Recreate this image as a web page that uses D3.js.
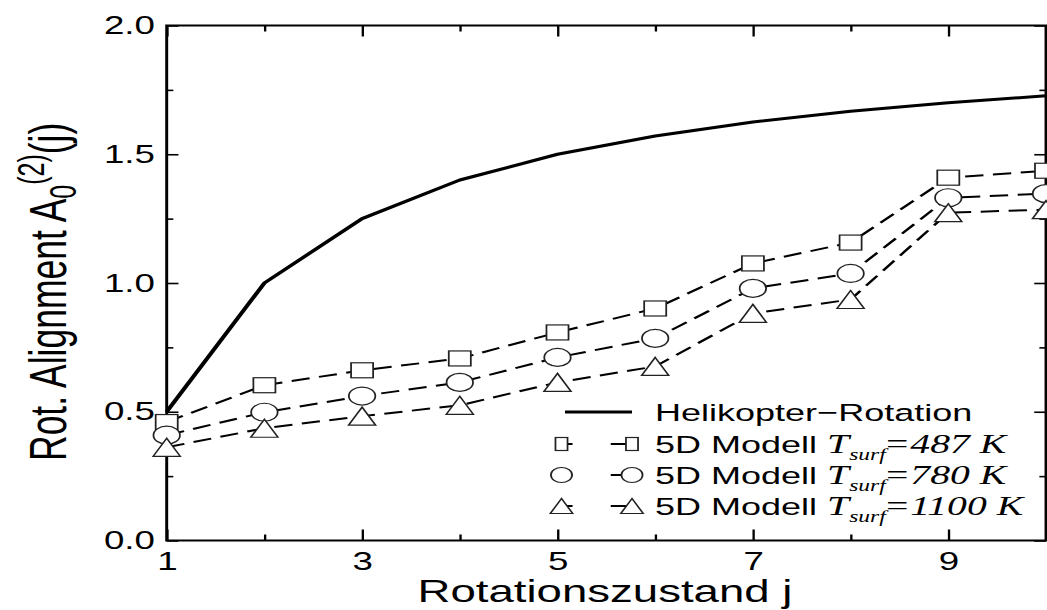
<!DOCTYPE html>
<html>
<head>
<meta charset="utf-8">
<script src="https://cdn.jsdelivr.net/npm/d3@7"></script>
<style>
  html, body { margin: 0; padding: 0; background: #fff; }
  svg { display: block; }
</style>
</head>
<body>
<div id="chart"></div>
<script>
// Rotational alignment vs. rotational state j.
// Data.
const rotJ = [1, 2, 3, 4, 5, 6, 7, 8, 9, 10];
const heliValues = [0.5, 1.0, 1.25, 1.4, 1.5, 1.571, 1.625, 1.667, 1.7, 1.727];
const model487 = [0.46, 0.603, 0.661, 0.707, 0.808, 0.901, 1.076, 1.157, 1.409, 1.436];
const model780 = [0.409, 0.498, 0.561, 0.614, 0.711, 0.785, 0.979, 1.037, 1.331, 1.347];
const model1100 = [0.362, 0.436, 0.483, 0.525, 0.614, 0.676, 0.882, 0.936, 1.273, 1.285];
const xTickLabels = [1, 3, 5, 7, 9];
const xMinorTicks = [2, 4, 6, 8, 10];
const yTickLabels = [0, 0.5, 1.0, 1.5, 2.0];
const yMinorTicks = [0.25, 0.75, 1.25, 1.75];
const legendTemps = ['487 K', '780 K', '1100 K'];

// The original figure is stretched horizontally; draw in a scaled group.
const sx = 1.47;
const W = 1047, H = 610;
const box = { left: 166.7 / sx, right: 1046 / sx, top: 25.5, bottom: 540.5 };

const svg = d3.select('#chart').append('svg').attr('width', W).attr('height', H);
const g = svg.append('g').attr('transform', `scale(${sx},1)`);

const x = d3.scaleLinear().domain([1, 10]).range([box.left, box.right]);
const y = d3.scaleLinear().domain([0, 2]).range([box.bottom, box.top]);

const FONT = '"Liberation Sans", Arial, Helvetica, sans-serif';
const SERIF = '"Liberation Serif", "Times New Roman", Times, serif';

// ---- frame and ticks ----
function tickAxis(gen, transform) {
  const a = g.append('g').attr('transform', transform).call(gen);
  a.select('.domain').remove();
  a.selectAll('line').attr('stroke', '#000').attr('stroke-width', 1.6);
  return a;
}
tickAxis(d3.axisBottom(x).tickValues(xTickLabels).tickSize(-11).tickFormat(''), `translate(0,${box.bottom})`);
tickAxis(d3.axisBottom(x).tickValues(xMinorTicks).tickSize(-6).tickFormat(''), `translate(0,${box.bottom})`);
tickAxis(d3.axisTop(x).tickValues(xTickLabels).tickSize(-11).tickFormat(''), `translate(0,${box.top})`);
tickAxis(d3.axisTop(x).tickValues(xMinorTicks).tickSize(-6).tickFormat(''), `translate(0,${box.top})`);
tickAxis(d3.axisLeft(y).tickValues(yTickLabels).tickSize(-8).tickFormat(''), `translate(${box.left},0)`);
tickAxis(d3.axisLeft(y).tickValues(yMinorTicks).tickSize(-4.5).tickFormat(''), `translate(${box.left},0)`);
tickAxis(d3.axisRight(y).tickValues(yTickLabels).tickSize(-8).tickFormat(''), `translate(${box.right},0)`);
tickAxis(d3.axisRight(y).tickValues(yMinorTicks).tickSize(-4.5).tickFormat(''), `translate(${box.right},0)`);

g.append('rect')
  .attr('x', box.left).attr('y', box.top)
  .attr('width', box.right - box.left).attr('height', box.bottom - box.top)
  .attr('fill', 'none').attr('stroke', '#000').attr('stroke-width', 2);

// tick labels
const xl = g.append('g').attr('transform', `translate(0,${box.bottom})`)
  .call(d3.axisBottom(x).tickValues(xTickLabels).tickSize(0).tickPadding(12).tickFormat(d3.format('d')));
xl.select('.domain').remove();
xl.selectAll('text').attr('font-family', FONT).attr('font-size', 25).attr('fill', '#000');

const yl = g.append('g').attr('transform', `translate(${box.left},0)`)
  .call(d3.axisLeft(y).tickValues(yTickLabels).tickSize(0).tickPadding(8).tickFormat(d3.format('.1f')));
yl.select('.domain').remove();
yl.selectAll('text').attr('font-family', FONT).attr('font-size', 25).attr('fill', '#000');

// axis titles
g.append('text')
  .attr('x', 605 / sx).attr('y', 602)
  .attr('text-anchor', 'middle')
  .attr('font-family', FONT).attr('font-size', 31)
  .text('Rotationszustand j');

const yt = g.append('text')
  .attr('transform', `translate(${66 / sx},461) rotate(-90)`)
  .attr('font-family', FONT).attr('font-size', 35.5);
yt.append('tspan').text('Rot. Alignment A');
yt.append('tspan').attr('font-size', 25).attr('dy', 7).text('0');
yt.append('tspan').attr('font-size', 25).attr('dx', 0).attr('dy', -22).text('(2)');
yt.append('tspan').attr('dy', 15).text('(j)');

// ---- series ----
const line = d3.line().x((d, i) => x(rotJ[i])).y(d => y(d));

const series = [
  { values: model487, shape: 'square' },
  { values: model780, shape: 'circle' },
  { values: model1100, shape: 'triangle' }
];

// legend markers are drawn smaller than plot markers
function drawMarker(sel, shape, small) {
  if (shape === 'square') {
    const w = small ? 8.2 : 15, h = small ? 13 : 15;
    sel.append('rect').attr('x', -w / 2).attr('y', -h / 2).attr('width', w).attr('height', h);
  } else if (shape === 'circle') {
    const rx = small ? 7.2 : 9, ry = small ? 7.5 : 9;
    sel.append('ellipse').attr('rx', rx).attr('ry', ry);
  } else {
    const hw = small ? 7.6 : 9.2, hh = small ? 7.5 : 9;
    sel.append('path').attr('d', `M0,${-hh}L${hw},${hh}L${-hw},${hh}Z`);
  }
  sel.selectAll('rect,ellipse,path')
    .attr('fill', '#fff').attr('stroke', '#222').attr('stroke-width', 1.2);
}

series.forEach(s => {
  g.append('path')
    .attr('d', line(s.values))
    .attr('fill', 'none').attr('stroke', '#000').attr('stroke-width', 2)
    .attr('stroke-dasharray', '12.5,6.5');
});

g.append('path')
  .attr('d', line(heliValues))
  .attr('fill', 'none').attr('stroke', '#000').attr('stroke-width', 3)
  .attr('stroke-linejoin', 'round');

series.forEach(s => {
  g.selectAll(null)
    .data(s.values)
    .enter()
    .append('g')
    .attr('transform', (d, i) => `translate(${x(rotJ[i])},${y(d)})`)
    .each(function () { drawMarker(d3.select(this), s.shape, false); });
});

// ---- legend ----
const lg = g.append('g');
const legX0 = 561.5 / sx, legX1 = 632 / sx, legText = 655 / sx;
const rowY = [412, 444, 475, 506];

lg.append('line')
  .attr('x1', 565 / sx).attr('x2', 632 / sx).attr('y1', rowY[0]).attr('y2', rowY[0])
  .attr('stroke', '#000').attr('stroke-width', 3);
lg.append('text')
  .attr('x', legText).attr('y', rowY[0]).attr('dy', '0.36em')
  .attr('font-family', FONT).attr('font-size', 24.5)
  .text('Helikopter\u2212Rotation');

series.forEach((s, i) => {
  const yy = rowY[i + 1];
  lg.append('line')
    .attr('x1', legX0).attr('x2', legX1).attr('y1', yy).attr('y2', yy)
    .attr('stroke', '#000').attr('stroke-width', 2)
    .attr('stroke-dasharray', '7.5,26,20');
  [legX0, legX1].forEach(px => {
    drawMarker(lg.append('g').attr('transform', `translate(${px},${yy})`), s.shape, true);
  });
  const t = lg.append('text')
    .attr('x', legText).attr('y', yy).attr('dy', '0.36em')
    .attr('font-family', FONT).attr('font-size', 24.5);
  t.append('tspan').text('5D Modell ');
  t.append('tspan').attr('font-family', SERIF).attr('font-style', 'italic').attr('font-size', 27).text('T');
  t.append('tspan').attr('font-family', SERIF).attr('font-style', 'italic').attr('font-size', 16).attr('dy', 7).text('surf');
  t.append('tspan').attr('font-family', SERIF).attr('font-style', 'italic').attr('font-size', 27)
    .attr('dx', -1.5).attr('dy', -7).text('=' + legendTemps[i]);
});
</script>
</body>
</html>
